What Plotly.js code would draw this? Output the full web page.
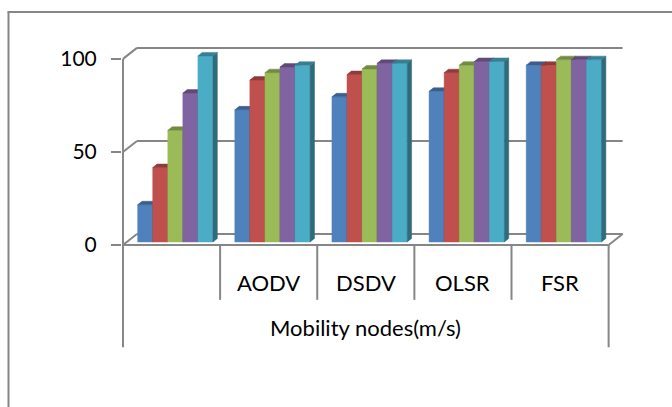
<!DOCTYPE html>
<html>
<head>
<meta charset="utf-8">
<script src="https://cdn.plot.ly/plotly-3.0.1.min.js"></script>
<style>
  html, body { margin: 0; padding: 0; background: #ffffff; }
  #chart { width: 672px; height: 407px; }
</style>
</head>
<body>
<div id="chart"></div>
<script>
// Category labels (first group has no label) and the axis caption below them
const categories = ['', 'AODV', 'DSDV', 'OLSR', 'FSR'];
const groupLabel = 'Mobility nodes(m/s)';

// One array per series, one value per category
const series1 = [20, 71, 78, 81, 95];
const series2 = [40, 87, 90, 91, 95];
const series3 = [60, 91, 93, 95, 98];
const series4 = [80, 94, 96, 97, 98];
const series5 = [100, 95, 96, 97, 98];

// Value axis ticks
const yTickValues = [0, 50, 100];
const yTickLabels = ['0', '50', '100'];

// ---- drawing ----
const allSeries = [series1, series2, series3, series4, series5];
const faceColors = ['#4F81BD', '#C0504D', '#9BBB59', '#8064A2', '#4BACC6'];

function shade(hex, k) {
  const n = parseInt(hex.slice(1), 16);
  const r = Math.round(((n >> 16) & 255) * k);
  const g = Math.round(((n >> 8) & 255) * k);
  const b = Math.round((n & 255) * k);
  return 'rgb(' + r + ',' + g + ',' + b + ')';
}

// pseudo-3D geometry, in axis units
const WALL_DX = 0.144, WALL_DY = 5.9;     // depth of floor / back wall
const BAR_OFF_X = 0.039, BAR_OFF_Y = 1.61; // bars sit slightly behind the front edge
const BAR_DX = 0.045, BAR_DY = 1.87;       // depth of each column
const BAR_W = 0.155;                        // width of each column
const X_MIN = -0.5, X_MAX = categories.length - 0.5;
const Y_RANGE = [-57, 108];
const FRAME = '#868686';
const FONT = 'Lato, "Open Sans", "Liberation Sans", sans-serif';

function polyTrace(polys, color) {
  const x = [], y = [];
  polys.forEach(function (p, k) {
    if (k > 0) { x.push(null); y.push(null); }
    p.forEach(function (pt) { x.push(pt[0]); y.push(pt[1]); });
    x.push(p[0][0]); y.push(p[0][1]);
  });
  return {
    type: 'scatter', mode: 'lines', x: x, y: y,
    fill: 'toself', fillcolor: color,
    line: { color: color, width: 0.5 },
    hoverinfo: 'skip', showlegend: false
  };
}

const traces = [];
allSeries.forEach(function (vals, s) {
  const front = [], side = [], top = [];
  vals.forEach(function (v, i) {
    const x0 = i + BAR_OFF_X + (s - 2.5) * BAR_W;
    const x1 = x0 + BAR_W;
    const y0 = BAR_OFF_Y;
    const y1 = v + BAR_OFF_Y;
    front.push([[x0, y0], [x1, y0], [x1, y1], [x0, y1]]);
    side.push([[x1, y0], [x1 + BAR_DX, y0 + BAR_DY], [x1 + BAR_DX, y1 + BAR_DY], [x1, y1]]);
    top.push([[x0, y1], [x1, y1], [x1 + BAR_DX, y1 + BAR_DY], [x0 + BAR_DX, y1 + BAR_DY]]);
  });
  traces.push(polyTrace(front, faceColors[s]));
  traces.push(polyTrace(side, shade(faceColors[s], 0.62)));
  traces.push(polyTrace(top, shade(faceColors[s], 0.74)));
});

// frame: back wall gridlines, floor, value axis and category dividers
const shapes = [];
function seg(x0, y0, x1, y1, w) {
  shapes.push({ type: 'line', xref: 'x', yref: 'y', x0: x0, y0: y0, x1: x1, y1: y1,
    line: { color: FRAME, width: w || 2 }, layer: 'below' });
}
yTickValues.forEach(function (v) {
  seg(X_MIN + WALL_DX, v + WALL_DY, X_MAX + WALL_DX, v + WALL_DY);
  seg(X_MIN, v, X_MIN + WALL_DX, v + WALL_DY);
});
seg(X_MIN, 0, X_MAX, 0);
seg(X_MAX, 0, X_MAX + WALL_DX, WALL_DY);
seg(X_MIN, -55, X_MIN, yTickValues[yTickValues.length - 1]);
seg(X_MAX, -55, X_MAX, 0);
for (let k = 1; k < categories.length; k++) seg(k - 0.5, -29.5, k - 0.5, 0);

// outer chart border (left and top edges)
const M = { l: 122, r: 42, t: 44, b: 56 };
const PW = 672 - M.l - M.r, PH = 407 - M.t - M.b;
const px = function (p) { return (p - M.l) / PW; };
const py = function (p) { return 1 - (p - M.t) / PH; };
shapes.push({ type: 'line', xref: 'paper', yref: 'paper', x0: px(8.5), y0: py(12), x1: px(8.5), y1: py(410),
  line: { color: FRAME, width: 2 } });
shapes.push({ type: 'line', xref: 'paper', yref: 'paper', x0: px(7.5), y0: py(12), x1: px(680), y1: py(12),
  line: { color: FRAME, width: 2 } });

const annotations = categories.map(function (c, i) {
  return { x: i, y: -20.4, xref: 'x', yref: 'y', text: c, showarrow: false,
    font: { family: FONT, size: 22, color: '#000' } };
});
annotations.push({ x: (categories.length - 1) / 2, y: -44.6, xref: 'x', yref: 'y', text: groupLabel,
  showarrow: false, font: { family: FONT, size: 22, color: '#000' } });

const layout = {
  width: 672, height: 407,
  margin: M,
  paper_bgcolor: '#ffffff', plot_bgcolor: 'rgba(0,0,0,0)',
  showlegend: false, hovermode: false,
  xaxis: { range: [-0.51, 4.72], visible: false, fixedrange: true },
  yaxis: {
    range: Y_RANGE, showgrid: false, zeroline: false, showline: false,
    tickmode: 'array', tickvals: yTickValues, ticktext: yTickLabels,
    ticks: 'outside', ticklen: 10, tickwidth: 2, tickcolor: FRAME,
    ticklabelstandoff: 10,
    tickfont: { family: FONT, size: 21, color: '#000' }, fixedrange: true
  },
  shapes: shapes,
  annotations: annotations
};

Plotly.newPlot('chart', traces, layout, { displayModeBar: false, staticPlot: true });
</script>
</body>
</html>
